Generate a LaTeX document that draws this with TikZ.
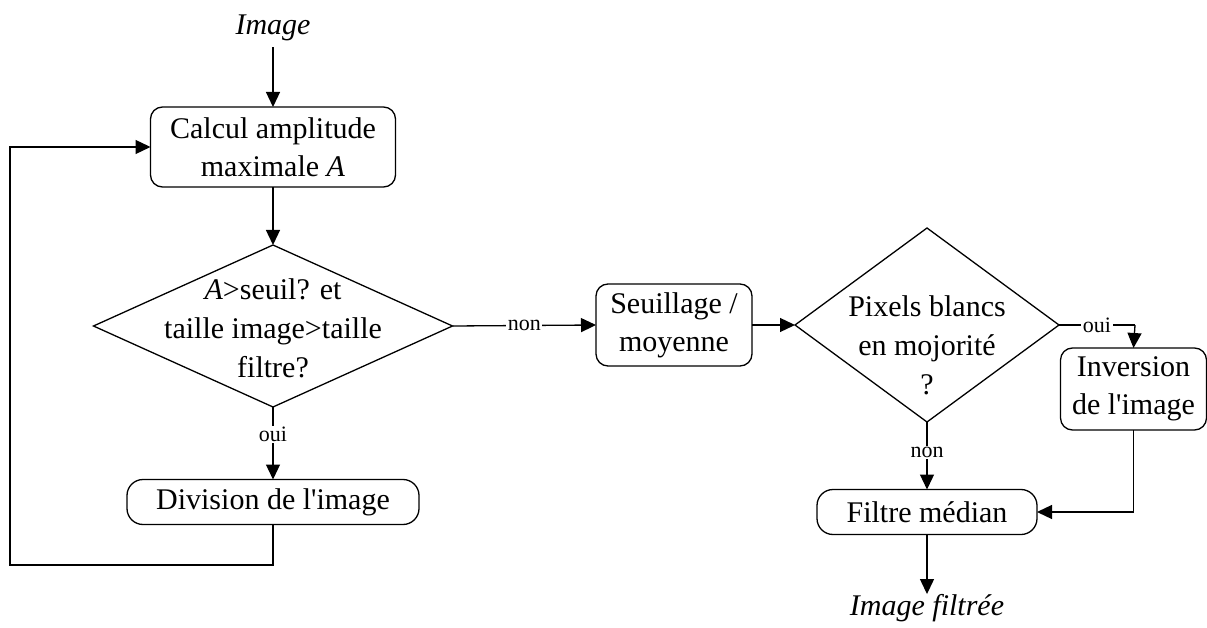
\documentclass[tikz,border=0pt]{standalone}
\usepackage{fontspec}
\setmainfont{Liberation Serif}
\usetikzlibrary{arrows.meta,shapes.geometric}
\tikzset{
  box/.style={draw, line width=1.3pt, rounded corners=12pt, align=center, inner sep=0pt, outer sep=0pt, font=\fontsize{30}{38}\selectfont},
  dia/.style={draw, line width=1.3pt, shape=diamond, inner sep=0pt, outer sep=0pt},
  txt/.style={align=center, inner sep=0pt, font=\fontsize{30}{39}\selectfont},
  arr/.style={line width=1.3pt, -{Triangle[length=15pt,width=14pt]}},
  ln/.style={line width=1.3pt},
  lbl/.style={fill=white, inner sep=1.5pt, font=\fontsize{22}{24}\selectfont}
}
\begin{document}
\begin{tikzpicture}[x=1pt,y=-1pt]
\useasboundingbox (0,0) rectangle (1207,628);
% nodes
\node[txt, font=\fontsize{30}{36}\selectfont\itshape] (img) at (273,28) {Image};
\node[box, minimum width=245, minimum height=80] (calc) at (273,147) {Calcul amplitude\\maximale \textit{A}};
\node[dia, minimum width=359, minimum height=162] (d1) at (273,326) {};
\node[txt] (d1t) at (273,328) {\textit{A}>seuil? et\\taille image>taille\\filtre?};
\node[box, rounded corners=16pt, minimum width=292, minimum height=45] (div) at (273,502) {Division de l\textquotesingle image};
\node[box, minimum width=156, minimum height=82] (seu) at (674,325) {Seuillage /\\moyenne};
\node[dia, minimum width=264, minimum height=194] (d2) at (927,325) {};
\node[txt] (d2t) at (927,345) {Pixels blancs\\en mojorité\\?};
\node[box, minimum width=146, minimum height=82] (inv) at (1133.5,389) {Inversion\\de l\textquotesingle image};
\node[box, rounded corners=16pt, minimum width=220, minimum height=45] (fil) at (927,512) {Filtre médian};
\node[txt, font=\fontsize{30}{36}\selectfont\itshape] (out) at (927,608) {Image filtrée};
\coordinate (lb) at (10,565);
\coordinate (oc) at (1135,325);
% connectors
\draw[arr] (img.south) ++(0,6) -- (calc.north);
\draw[arr] (calc.south) -- (d1.north);
\draw[arr] (d1.south) -- node[lbl, pos=0.38]{oui} (div.north);
\draw[arr] (div.south) |- (lb) |- (calc.west);
\draw[arr] (d1.east) -- node[lbl, pos=0.5]{non} (seu.west);
\draw[arr] (seu.east) -- (d2.west);
\draw[ln] (d2.east) -- node[lbl, pos=0.5]{oui} (oc);
\draw[arr] (oc) -- (inv.north);
\draw[arr] (d2.south) -- node[lbl, pos=0.45]{non} (fil.north);
\draw[arr] (inv.south) |- (fil.east);
\draw[arr] (fil.south) -- (out.north);
\end{tikzpicture}
\end{document}
